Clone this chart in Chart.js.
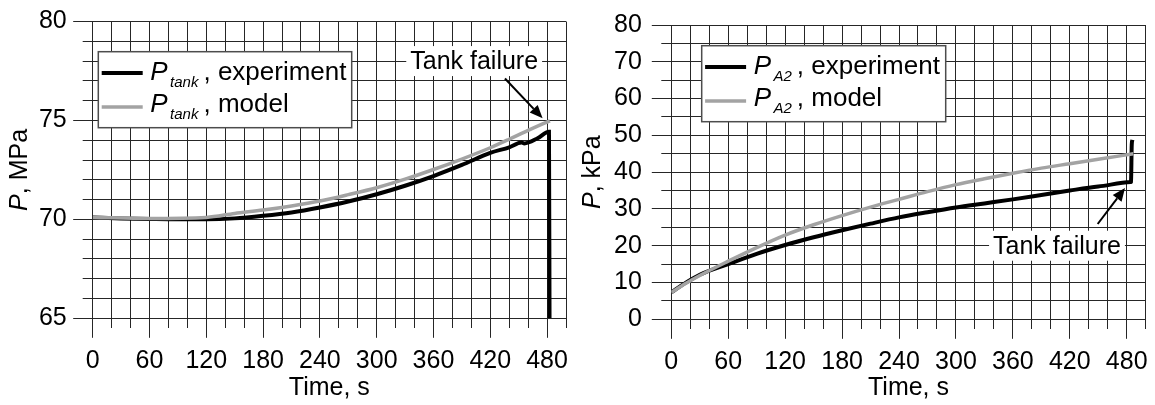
<!DOCTYPE html>
<html>
<head>
<meta charset="utf-8">
<script src="https://cdn.jsdelivr.net/npm/chart.js@4.4.1/dist/chart.umd.min.js"></script>
<style>
  html, body { margin: 0; padding: 0; background: #fff; }
  #wrap { position: relative; width: 1155px; height: 405px; }
  canvas { position: absolute; top: 0; }
</style>
</head>
<body>
<div id="wrap">
  <canvas id="tank" width="580" height="405" style="left:0"></canvas>
  <canvas id="a2" width="575" height="405" style="left:580px"></canvas>
</div>
<script>
// --- data ---
const tankExpTime = [0, 30, 60, 90, 120, 150, 180, 210, 240, 270, 300, 330, 360, 390, 420, 440, 453, 456, 470, 482, 482.6];
const tankExpP = [70.1, 70.05, 70.02, 70.0, 70.0, 70.05, 70.18, 70.35, 70.6, 70.9, 71.27, 71.7, 72.19, 72.75, 73.36, 73.64, 73.88, 73.84, 74.1, 74.43, 65.0];
const tankModelTime = [0, 60, 120, 150, 180, 210, 240, 270, 300, 330, 360, 390, 420, 440, 460, 483];
const tankModelP = [70.1, 70.05, 70.1, 70.3, 70.47, 70.68, 70.93, 71.25, 71.6, 72.03, 72.52, 73.05, 73.62, 74.05, 74.5, 74.98];

const a2ExpTime = [0, 15, 30, 60, 90, 120, 150, 180, 210, 240, 270, 300, 330, 360, 390, 420, 450, 484.4, 484.5, 485.3, 486];
const a2ExpP = [7.3, 9.9, 12.1, 15.0, 17.8, 20.2, 22.3, 24.2, 26.0, 27.7, 29.1, 30.4, 31.5, 32.6, 33.8, 35.0, 36.1, 37.3, 37.32, 47.5, 48.8];
const a2ModelTime = [0, 15, 30, 60, 90, 120, 150, 180, 210, 240, 270, 300, 330, 360, 390, 420, 450, 487];
const a2ModelP = [7.3, 9.7, 11.9, 15.8, 19.5, 22.9, 25.7, 28.2, 30.5, 32.6, 34.7, 36.6, 38.2, 39.7, 41.1, 42.3, 43.5, 45.0];

const timeRange = [0, 500];
const timeStep = 20;
const timeLabelEvery = 60;
const tankRange = [65, 80];
const a2Range = [0, 80];

// "Tank failure" note: text anchor and arrow [from, to], in data units
const tankNote = { text: [403, 78], arrow: [[435.5, 77.12], [475.3, 75.11]] };
const a2Note = { text: [406.5, 20], arrow: [[449.4, 25.9], [478.2, 35.7]] };

const FONT = '"Liberation Sans", Arial, sans-serif';
const GREY = '#a3a3a3';
const GRID = '#262626';

Chart.defaults.font.family = FONT;
Chart.defaults.color = '#000';

const pts = (xs, ys) => xs.map((x, i) => ({ x: x, y: ys[i] }));

function yTitle(ctx, cx, cy, unit) {
  ctx.save();
  ctx.translate(cx, cy);
  ctx.rotate(-Math.PI / 2);
  ctx.textBaseline = 'middle';
  ctx.textAlign = 'left';
  ctx.fillStyle = '#000';
  ctx.font = 'italic 25px ' + FONT;
  const pw = ctx.measureText('P').width;
  ctx.font = '25px ' + FONT;
  const rest = ', ' + unit;
  const rw = ctx.measureText(rest).width;
  const x0 = -(pw + rw) / 2;
  ctx.font = 'italic 25px ' + FONT;
  ctx.fillText('P', x0, 0);
  ctx.font = '25px ' + FONT;
  ctx.fillText(rest, x0 + pw, 0);
  ctx.restore();
}

function legend(ctx, box, sub) {
  ctx.save();
  ctx.fillStyle = '#fff';
  ctx.fillRect(box.x, box.y, box.w, box.h);
  ctx.strokeStyle = '#4d4d4d';
  ctx.lineWidth = 1.5;
  ctx.strokeRect(box.x, box.y, box.w, box.h);
  const rows = [
    { color: '#000', width: 4, label: ', experiment', sy: 21.3, by: 28.2 },
    { color: GREY, width: 3.5, label: ', model', sy: 55.2, by: 59.8 }
  ];
  rows.forEach(r => {
    ctx.strokeStyle = r.color;
    ctx.lineWidth = r.width;
    ctx.beginPath();
    ctx.moveTo(box.x + 3.4, box.y + r.sy);
    ctx.lineTo(box.x + 44.4, box.y + r.sy);
    ctx.stroke();
    ctx.fillStyle = '#000';
    ctx.textBaseline = 'alphabetic';
    ctx.textAlign = 'left';
    let x = box.x + 52;
    const by = box.y + r.by;
    ctx.font = 'italic 26px ' + FONT;
    ctx.fillText('P', x, by);
    x += 19.8;
    ctx.font = 'italic 15px ' + FONT;
    ctx.fillText(sub, x, by + 7);
    x += ctx.measureText(sub).width + 5;
    ctx.font = '26px ' + FONT;
    ctx.fillText(r.label, x, by);
  });
  ctx.restore();
}

function note(ctx, xs, ys, n) {
  ctx.save();
  ctx.font = '25px ' + FONT;
  const tx = xs.getPixelForValue(n.text[0]);
  const ty = ys.getPixelForValue(n.text[1]);
  const w = ctx.measureText('Tank failure').width;
  ctx.fillStyle = '#fff';
  ctx.fillRect(tx - w / 2 - 4, ty - 15, w + 8, 30);
  ctx.fillStyle = '#000';
  ctx.textAlign = 'center';
  ctx.textBaseline = 'middle';
  ctx.fillText('Tank failure', tx, ty + 1);
  const x1 = xs.getPixelForValue(n.arrow[0][0]), y1 = ys.getPixelForValue(n.arrow[0][1]);
  const x2 = xs.getPixelForValue(n.arrow[1][0]), y2 = ys.getPixelForValue(n.arrow[1][1]);
  const a = Math.atan2(y2 - y1, x2 - x1);
  const L = 13, H = 5.5;
  ctx.strokeStyle = '#000';
  ctx.lineWidth = 2;
  ctx.beginPath();
  ctx.moveTo(x1, y1);
  ctx.lineTo(x2 - L * Math.cos(a), y2 - L * Math.sin(a));
  ctx.stroke();
  ctx.beginPath();
  ctx.moveTo(x2, y2);
  ctx.lineTo(x2 - L * Math.cos(a) + H * Math.sin(a), y2 - L * Math.sin(a) - H * Math.cos(a));
  ctx.lineTo(x2 - L * Math.cos(a) - H * Math.sin(a), y2 - L * Math.sin(a) + H * Math.cos(a));
  ctx.closePath();
  ctx.fillStyle = '#000';
  ctx.fill();
  ctx.restore();
}

function makeChart(id, o) {
  const overlay = {
    id: 'overlay',
    afterDraw(chart) {
      const { ctx, chartArea, scales } = chart;
      yTitle(ctx, o.titleX, (chartArea.top + chartArea.bottom) / 2, o.unit);
      note(ctx, scales.x, scales.y, o.note);
      legend(ctx, o.legendBox, o.sub);
    }
  };
  return new Chart(document.getElementById(id), {
    type: 'line',
    data: {
      datasets: [
        { data: pts(o.modelT, o.modelP), borderColor: GREY, borderWidth: 3.5, order: 0 },
        { data: pts(o.expT, o.expP), borderColor: '#000', borderWidth: 4, order: 1 }
      ]
    },
    options: {
      responsive: false,
      animation: false,
      events: [],
      parsing: false,
      elements: { point: { radius: 0 }, line: { cubicInterpolationMode: 'monotone', fill: false } },
      layout: { padding: { left: 0, top: o.top, right: o.right, bottom: 0 } },
      plugins: { legend: { display: false }, tooltip: { enabled: false } },
      scales: {
        x: {
          type: 'linear',
          min: timeRange[0], max: timeRange[1],
          afterFit: s => { s.height = o.xHeight; },
          border: { color: GRID, width: 1 },
          grid: {
            color: GRID, lineWidth: 1, tickLength: 19.5, tickColor: GRID,
            tickBorderDash: c => (c.tick && c.tick.value % timeLabelEvery === 0) ? [] : [9, 40]
          },
          ticks: {
            stepSize: timeStep, autoSkip: false, maxRotation: 0, minRotation: 0, padding: 8,
            font: { size: 25 }, color: '#000',
            callback: v => (v % timeLabelEvery === 0 && v <= 480) ? String(v) : ''
          },
          title: { display: true, text: 'Time, s', font: { size: 25 }, color: '#000', padding: { top: 0, bottom: 2 } }
        },
        y: {
          min: o.yRange[0], max: o.yRange[1],
          afterFit: s => { s.width = o.yWidth; },
          border: { color: GRID, width: 1 },
          grid: {
            color: GRID, lineWidth: 1, tickLength: 19.5, tickColor: GRID,
            tickBorderDash: c => (c.tick && c.tick.value % o.yLabelEvery === 0) ? [] : [0, 9.5, 10, 40]
          },
          ticks: {
            stepSize: o.yStep, autoSkip: false, padding: o.yPad,
            font: { size: 25 }, color: '#000',
            callback: v => (v % o.yLabelEvery === 0) ? String(v) : ''
          }
        }
      }
    },
    plugins: [overlay]
  });
}

makeChart('tank', {
  expT: tankExpTime, expP: tankExpP, modelT: tankModelTime, modelP: tankModelP,
  yRange: tankRange, yStep: 1, yLabelEvery: 5, yPad: 6.5,
  top: 19.3, right: 14, yWidth: 92.7, xHeight: 86.7,
  titleX: 20, unit: 'MPa', sub: 'tank', note: tankNote,
  legendBox: { x: 98.3, y: 51.7, w: 253.4, h: 76 }
});

makeChart('a2', {
  expT: a2ExpTime, expP: a2ExpP, modelT: a2ModelTime, modelP: a2ModelP,
  yRange: a2Range, yStep: 5, yLabelEvery: 10, yPad: 10,
  top: 19.3, right: 9.3, yWidth: 91.3, xHeight: 85.7,
  titleX: 13.3, unit: 'kPa', sub: 'A2', note: a2Note,
  legendBox: { x: 121.7, y: 45.7, w: 244, h: 76 }
});
</script>
</body>
</html>
